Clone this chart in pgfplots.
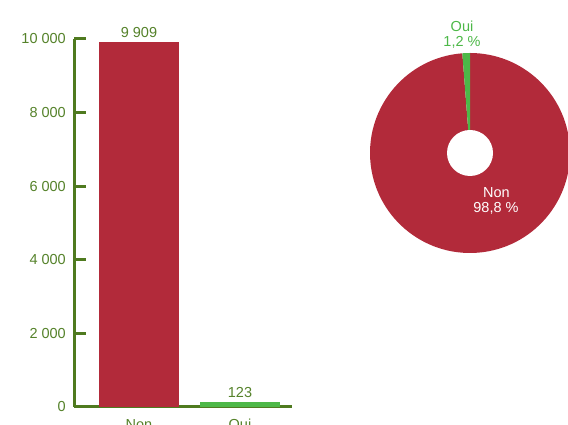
\documentclass[border=0pt]{standalone}
\usepackage{pgfplots}
\usepackage{pgfplotstable}
\pgfplotsset{compat=1.18}
\usepackage{fontspec}
\setmainfont{Liberation Sans}
\definecolor{nonred}{HTML}{B22A3A}
\definecolor{ouigreen}{HTML}{4DB848}
\definecolor{olive}{HTML}{4F7A1F}
\definecolor{olivetext}{HTML}{55822A}
\newcommand\fs{\fontsize{14.5}{17}\selectfont}
\pgfplotstableread{
label value
Non 9909
Oui 123
}\datatable
\pgfplotstablegetelem{0}{value}\of\datatable \let\vnon\pgfplotsretval
\pgfplotstablegetelem{1}{value}\of\datatable \let\voui\pgfplotsretval
\begin{document}
\fs
\begin{tikzpicture}[x=1pt,y=1pt]
\path[use as bounding box, clip] (0,0) rectangle (568,425);
\begin{axis}[
  at={(74pt,18pt)}, anchor=south west,
  scale only axis, width=218pt, height=368pt,
  xmin=-0.6436, xmax=1.5149, ymin=0, ymax=10000,
  axis x line=bottom, axis y line=left,
  axis line style={-, draw=olive, line width=3pt},
  xtick={0,1}, xticklabels={Non,Oui},
  x tick style={draw=none},
  xticklabel style={inner sep=0pt, anchor=north, text=olivetext},
  xticklabel shift=0pt,
  ytick={0,2000,4000,6000,8000,10000},
  ytick align=inside, major tick length=12pt,
  y tick style={draw=olive, line width=3pt},
  yticklabel style={inner sep=0pt, anchor=east, xshift=-8pt, text=olivetext},
  /pgf/number format/assume math mode=true,
  /pgf/number format/1000 sep={\ },
  scaled y ticks=false,
  ybar, bar width=80pt, bar shift=0pt,
  nodes near coords,
  nodes near coords style={text=olivetext, font=\fs, inner sep=1pt, anchor=south, yshift=4pt,
     /pgf/number format/1000 sep={\ }, /pgf/number format/assume math mode=true},
  clip=false,
  tick label style={font=\fs},
]
\addplot[fill=nonred, draw=none] table[x expr=0, y=value, restrict expr to domain={\coordindex}{0:0}] {\datatable};
\addplot[fill=ouigreen, draw=none] table[x expr=1, y=value, restrict expr to domain={\coordindex}{1:1}] {\datatable};
\end{axis}
\pgfmathsetmacro\fracoui{\voui/(\vnon+\voui)}
\pgfmathsetmacro\endoui{90+360*\fracoui}
\begin{axis}[
  at={(370pt,172pt)}, anchor=south west,
  scale only axis, width=200pt, height=200pt,
  xmin=-1, xmax=1, ymin=-1, ymax=1,
  hide axis, clip=false,
]
\addplot[draw=none] coordinates {(0,0)};
\fill[nonred] (axis cs:0,0) -- ++(\endoui:100pt) arc[start angle=\endoui, end angle=450, radius=100pt] -- cycle;
\fill[ouigreen] (axis cs:0,0) -- ++(90:100pt) arc[start angle=90, end angle=\endoui, radius=100pt] -- cycle;
\fill[white] (axis cs:0,0) circle[radius=23pt];
\node[anchor=base, text=ouigreen, inner sep=0pt] at (axis cs:-0.08,1.21) {\fs Oui};
\node[anchor=base, text=ouigreen, inner sep=0pt] at (axis cs:-0.08,1.06) {\fs 1,2 \%};
\node[anchor=base, text=white, inner sep=0pt] at (axis cs:0.265,-0.45) {\fs Non};
\node[anchor=base, text=white, inner sep=0pt] at (axis cs:0.26,-0.60) {\fs 98,8 \%};
\end{axis}
\end{tikzpicture}
\end{document}
